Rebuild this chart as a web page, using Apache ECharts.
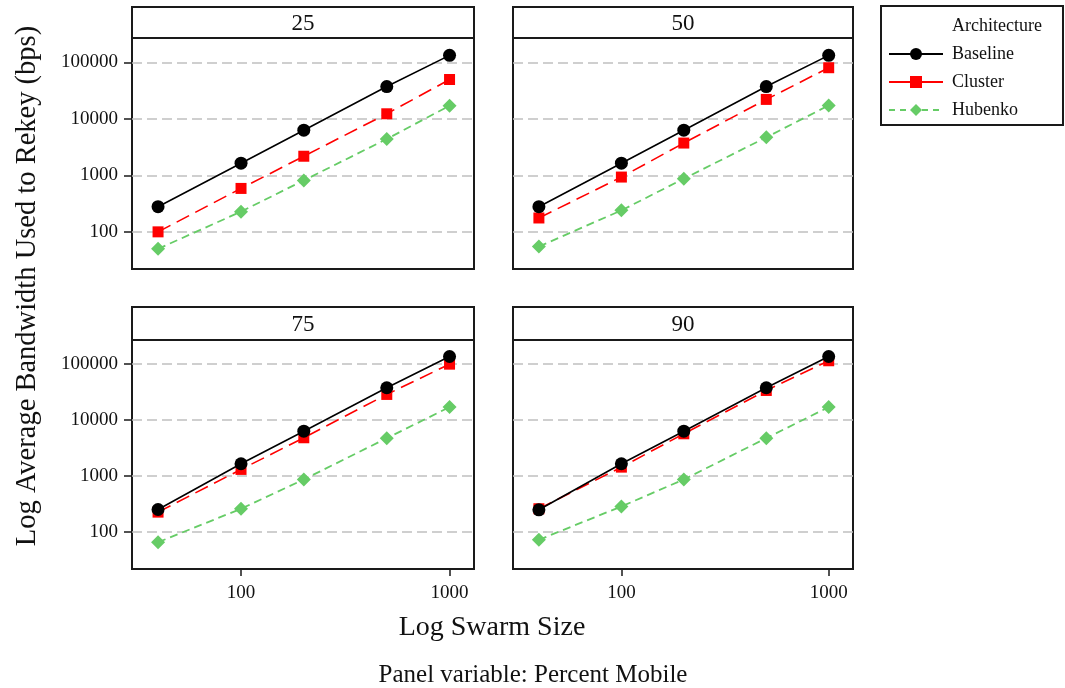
<!DOCTYPE html>
<html>
<head>
<meta charset="utf-8">
<script src="https://cdn.jsdelivr.net/npm/echarts@6/dist/echarts.min.js"></script>
<style>
html,body{margin:0;padding:0;background:#fff;}
#chart{width:1065px;height:688px;}
</style>
</head>
<body>
<div id="chart"></div>
<script>
// ---- data ----
const swarmSizes = [40, 100, 200, 500, 1000];
const panels = ['25', '50', '75', '90'];
const seriesNames = ['Baseline', 'Cluster', 'Hubenko'];
const baseline25 = [279, 1640, 6300, 37300, 133000];
const cluster25  = [100, 587, 2180, 12300, 49700];
const hubenko25  = [50, 228, 815, 4400, 17100];
const baseline50 = [279, 1640, 6300, 37300, 133000];
const cluster50  = [176, 933, 3730, 22100, 80400];
const hubenko50  = [55, 240, 872, 4710, 17300];
const baseline75 = [254, 1665, 6360, 37900, 137000];
const cluster75  = [228, 1320, 4850, 28800, 100000];
const hubenko75  = [66, 262, 873, 4770, 17100];
const baseline90 = [251, 1665, 6360, 37900, 137000];
const cluster90  = [262, 1450, 5710, 33900, 115000];
const hubenko90  = [73, 288, 873, 4770, 17100];
const yTicks = [100, 1000, 10000, 100000];
const xTicks = [100, 1000];

const panelData = [
  [baseline25, cluster25, hubenko25],
  [baseline50, cluster50, hubenko50],
  [baseline75, cluster75, hubenko75],
  [baseline90, cluster90, hubenko90]
];

const FONT = 'Liberation Serif';
const grids = [
  {left: 132, top: 38, width: 342, height: 231},
  {left: 513, top: 38, width: 340, height: 231},
  {left: 132, top: 340, width: 342, height: 229},
  {left: 513, top: 340, width: 340, height: 229}
];
const stripTops = [7, 7, 307, 307];

const styles = [
  {color: '#000000', symbol: 'circle', size: 13, type: 'solid', width: 1.6},
  {color: '#ff0000', symbol: 'rect', size: 11, type: [14, 7], width: 1.6},
  {color: '#66cc66', symbol: 'diamond', size: 14, type: [8, 5], width: 1.8}
];
const legendLineTypes = ['solid', 'solid', [6, 5]];

const gridOpts = grids.map(g => Object.assign({
  show: true, borderColor: '#1a1a1a', borderWidth: 2, backgroundColor: '#fff', containLabel: false
}, g));

const plainNum = v => String(Math.round(v));

const xAxes = grids.map((g, i) => ({
  type: 'log', gridIndex: i, min: 30, max: 1310, logBase: 10,
  axisLine: {show: false},
  axisTick: {show: i >= 2, length: 7, inside: false, customValues: xTicks, lineStyle: {color: '#1a1a1a', width: 1.5}},
  axisLabel: {show: i >= 2, customValues: xTicks, margin: 15, fontFamily: FONT, fontSize: 19, color: '#111', formatter: plainNum},
  splitLine: {show: false}
}));

const yAxes = grids.map((g, i) => ({
  type: 'log', gridIndex: i, min: 22, max: 270000, logBase: 10,
  axisLine: {show: false},
  axisTick: {show: i % 2 === 0, length: 8, customValues: yTicks, lineStyle: {color: '#1a1a1a', width: 1.5}},
  axisLabel: {show: i % 2 === 0, customValues: yTicks, margin: 14, fontFamily: FONT, fontSize: 19, color: '#111', formatter: plainNum},
  splitLine: {show: true, showMinLine: true, showMaxLine: true, lineStyle: {color: '#c0c0c0', width: 1.5, type: [10, 5]}}
}));

const series = [];
panelData.forEach((arrs, p) => {
  arrs.forEach((vals, s) => {
    const st = styles[s];
    series.push({
      name: seriesNames[s], type: 'line', xAxisIndex: p, yAxisIndex: p,
      data: swarmSizes.map((x, k) => [x, vals[k]]),
      symbol: st.symbol, symbolSize: st.size, showSymbol: true,
      itemStyle: {color: st.color},
      lineStyle: {color: st.color, width: st.width, type: st.type},
      z: 10 - s, animation: false
    });
  });
});

const graphics = [];
grids.forEach((g, i) => {
  const top = stripTops[i];
  graphics.push({
    type: 'rect', shape: {x: g.left, y: top, width: g.width, height: g.top - top},
    style: {fill: '#fff', stroke: '#1a1a1a', lineWidth: 2}, z: 100
  });
  graphics.push({
    type: 'text', x: g.left + g.width / 2, y: top + (g.top - top) / 2 + 1,
    style: {text: panels[i], fontFamily: FONT, fontSize: 23, fill: '#111', align: 'center', verticalAlign: 'middle'}, z: 101
  });
});
graphics.push({
  type: 'text', x: 28, y: 286, rotation: Math.PI / 2,
  style: {text: 'Log Average Bandwidth Used to Rekey (bps)', fontFamily: FONT, fontSize: 28.5, fill: '#111', align: 'center', verticalAlign: 'middle'}
});
graphics.push({
  type: 'text', x: 492, y: 628,
  style: {text: 'Log Swarm Size', fontFamily: FONT, fontSize: 28, fill: '#111', align: 'center', verticalAlign: 'middle'}
});
graphics.push({
  type: 'text', x: 533, y: 675,
  style: {text: 'Panel variable: Percent Mobile', fontFamily: FONT, fontSize: 25, fill: '#111', align: 'center', verticalAlign: 'middle'}
});
graphics.push({
  type: 'text', x: 952, y: 26,
  style: {text: 'Architecture', fontFamily: FONT, fontSize: 18, fill: '#111', align: 'left', verticalAlign: 'middle'}, z: 200
});

const chart = echarts.init(document.getElementById('chart'), null, {renderer: 'canvas'});
chart.setOption({
  animation: false,
  backgroundColor: '#fff',
  grid: gridOpts,
  xAxis: xAxes,
  yAxis: yAxes,
  legend: {
    data: seriesNames.map((n, i) => ({name: n, lineStyle: {type: legendLineTypes[i]}})),
    orient: 'vertical', left: 881, top: 6,
    padding: [39, 45, 6, 7], itemGap: 10, itemWidth: 54, itemHeight: 15,
    borderColor: '#1a1a1a', borderWidth: 2, backgroundColor: '#fff',
    textStyle: {fontFamily: FONT, fontSize: 18, color: '#111', padding: [0, 0, 0, 4]}
  },
  series: series,
  graphic: graphics
});
</script>
</body>
</html>
